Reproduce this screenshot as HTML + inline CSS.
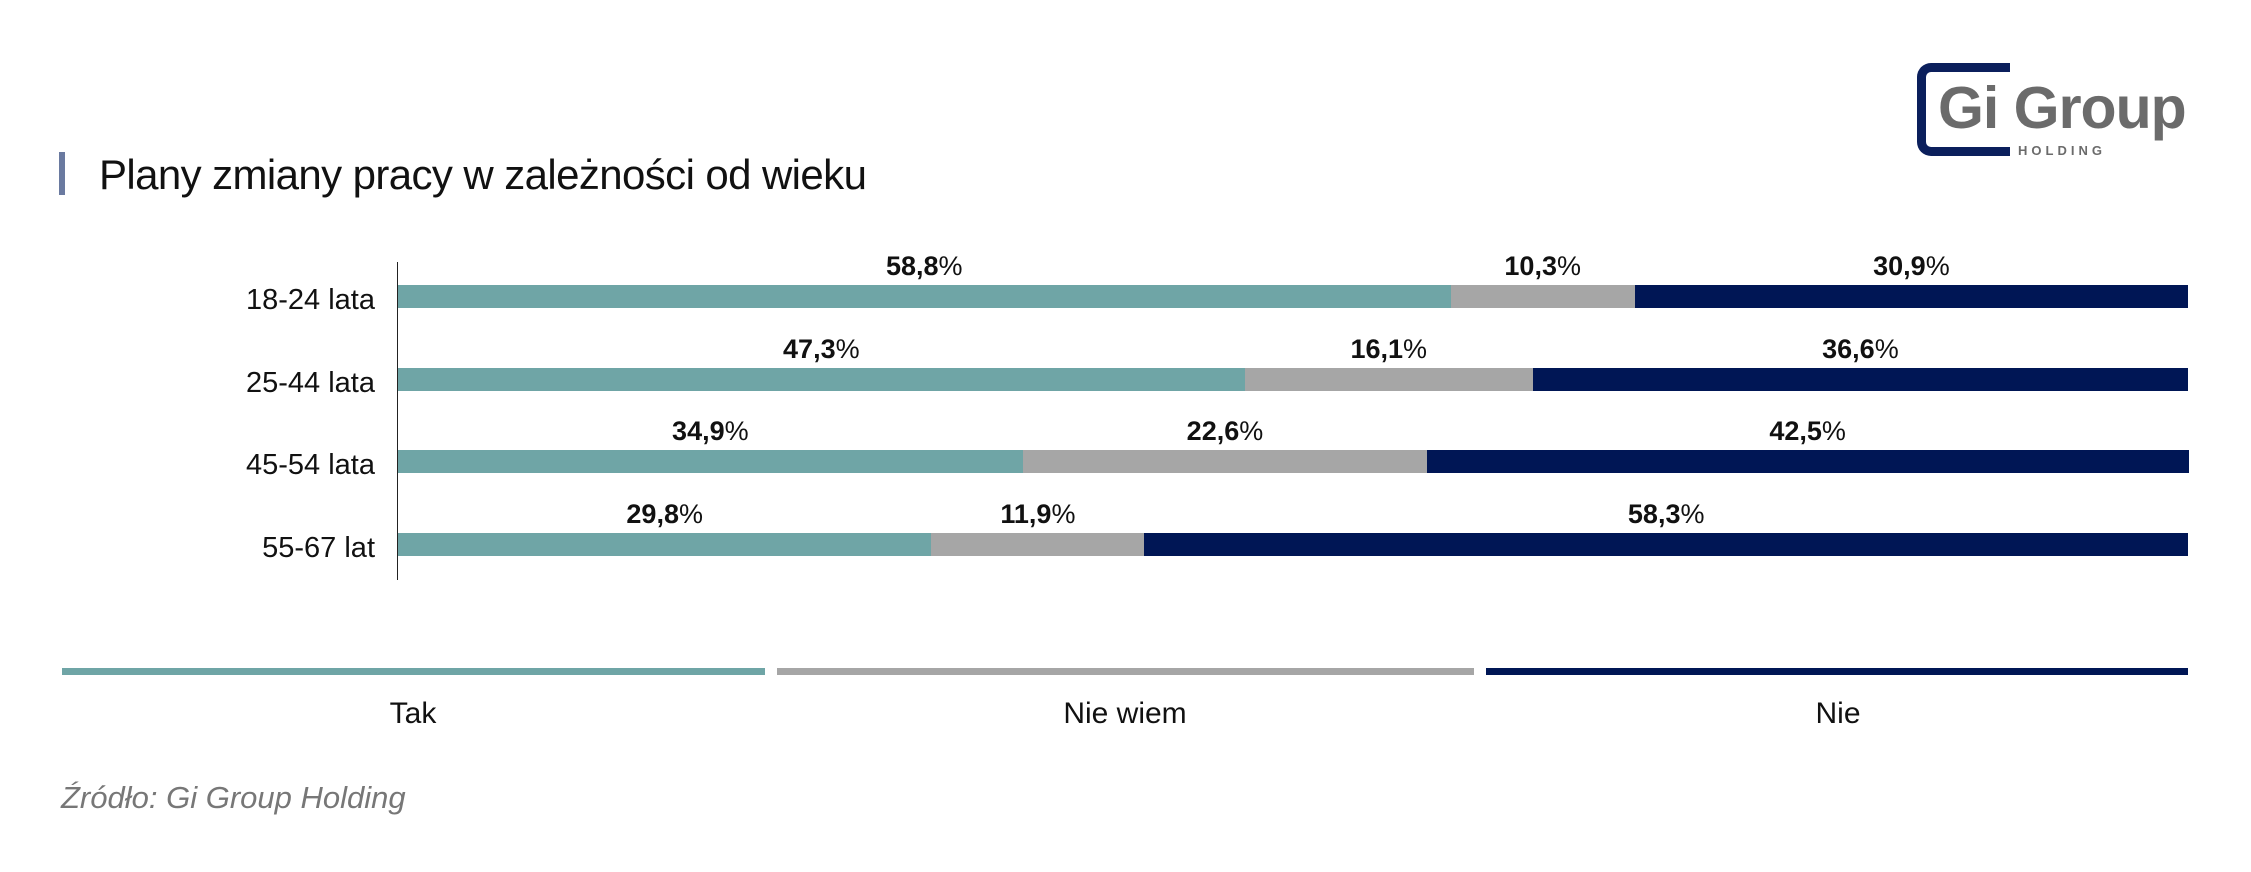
<!DOCTYPE html>
<html><head><meta charset="utf-8"><style>
body{margin:0;width:2251px;height:872px;background:#fff;position:relative;overflow:hidden;font-family:"Liberation Sans",sans-serif;}
.a{position:absolute;}
.lbl{position:absolute;font-size:29px;color:#111;white-space:nowrap;}
.v{position:absolute;font-size:27px;font-weight:bold;color:#111;transform:translateX(-50%);white-space:nowrap;}
</style></head><body>
<div class="a" style="left:59px;top:152px;width:6px;height:43px;background:#6a7aa0"></div>
<div class="a" style="left:99px;top:151px;font-size:42px;color:#111;white-space:nowrap;letter-spacing:-0.6px">Plany zmiany pracy w zależności od wieku</div>

<div class="a" style="left:1917px;top:63px;width:93px;height:93px;box-sizing:border-box;border:9px solid #0b1f5c;border-right:none;border-radius:14px 0 0 14px"></div>
<div class="a" style="left:1938px;top:74px;font-size:59px;font-weight:bold;color:#6b6b6b;background:#fff;letter-spacing:-1px;line-height:68px">Gi Group</div>
<div class="a" style="left:2018px;top:143px;font-size:13px;font-weight:bold;color:#6b6b6b;letter-spacing:4px;background:#fff;padding-right:2px">HOLDING</div>

<div class="a" style="left:397px;top:262px;width:1px;height:318px;background:#222"></div>
<div id="c"></div>
<script>
var data=[[58.8,10.3,30.9,"18-24 lata",285],[47.3,16.1,36.6,"25-44 lata",368],[34.9,22.6,42.5,"45-54 lata",450],[29.8,11.9,58.3,"55-67 lat",533]];
var cols=["#6fa5a6","#a6a6a6","#001655"];
var x0=398,W=1790,h="";
data.forEach(function(d){
 var x=x0;
 for(var i=0;i<3;i++){var w=d[i]/100*W;
  h+='<div class="a" style="left:'+x+'px;top:'+d[4]+'px;width:'+(w+0.5)+'px;height:23px;background:'+cols[i]+'"></div>';
  h+='<div class="v" style="left:'+(x+w/2)+'px;top:'+(d[4]-34)+'px">'+String(d[i].toFixed(1)).replace('.',',')+'<span style="font-weight:normal">%</span></div>';
  x+=w;}
 h+='<div class="lbl" style="right:'+(2251-375)+'px;top:'+(d[4]-1)+'px">'+d[3]+'</div>';
});
document.getElementById('c').innerHTML=h;
</script>
<div class="a" style="left:62px;top:668px;width:703px;height:7px;background:#6fa5a6"></div>
<div class="a" style="left:777px;top:668px;width:697px;height:7px;background:#a6a6a6"></div>
<div class="a" style="left:1486px;top:668px;width:702px;height:7px;background:#001655"></div>
<div class="lbl" style="left:413px;top:697px;transform:translateX(-50%);font-size:30px">Tak</div>
<div class="lbl" style="left:1125px;top:697px;transform:translateX(-50%);font-size:30px">Nie wiem</div>
<div class="lbl" style="left:1838px;top:697px;transform:translateX(-50%);font-size:30px">Nie</div>
<div class="a" style="left:61px;top:780px;font-size:31px;font-style:italic;color:#777;white-space:nowrap">Źródło: Gi Group Holding</div>
</body></html>
